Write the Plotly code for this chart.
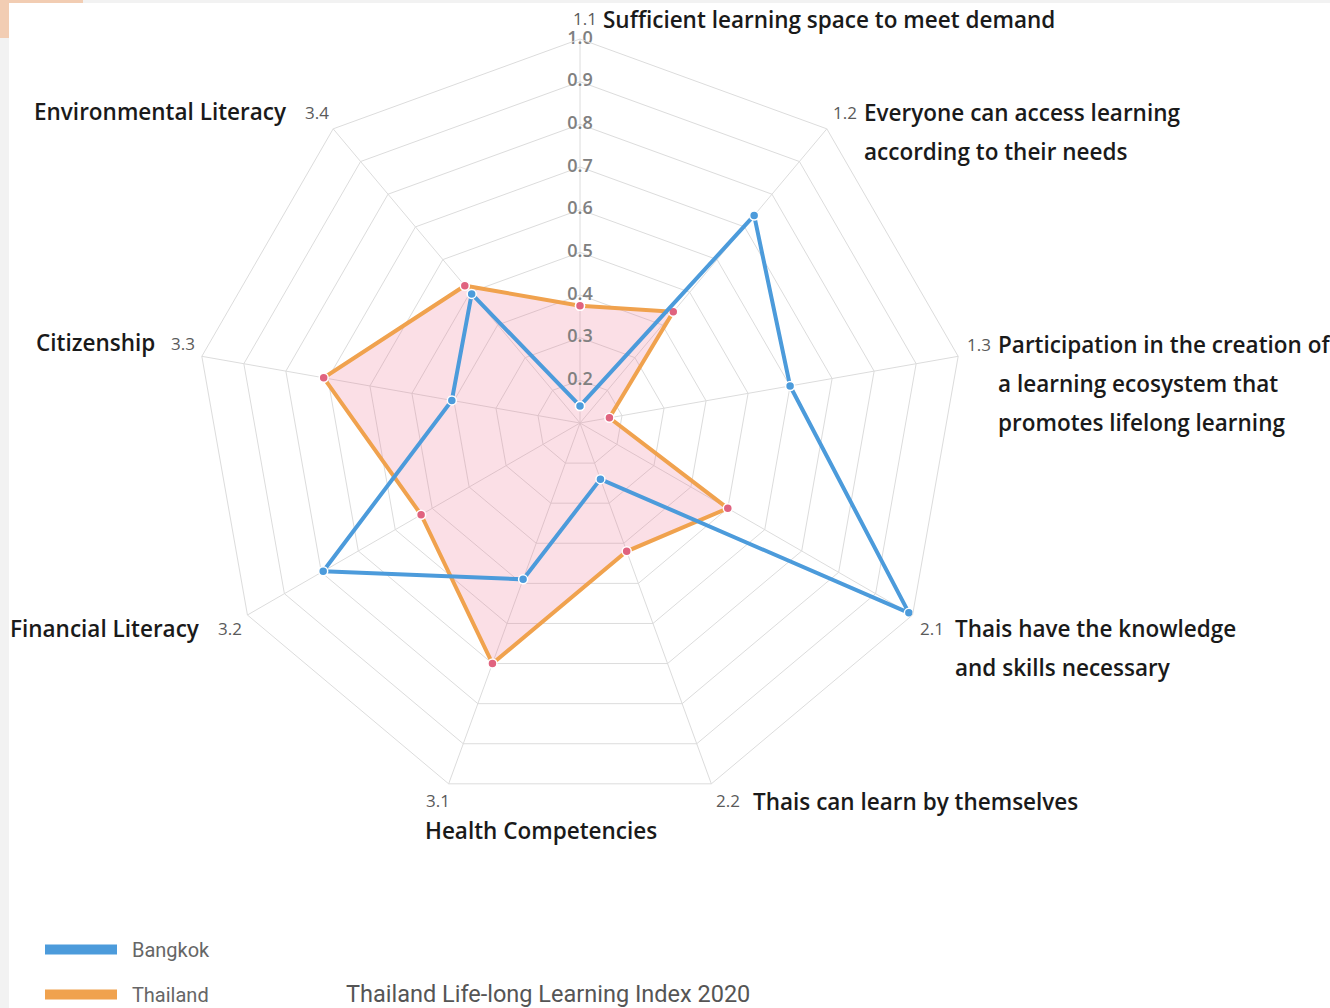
import plotly.graph_objects as go

W, H = 1330, 1008

categories = ["1.1", "1.2", "1.3", "2.1", "2.2", "3.1", "3.2", "3.3", "3.4"]
bangkok = [0.14, 0.735, 0.60, 0.99, 0.24, 0.49, 0.795, 0.405, 0.495]
thailand = [0.375, 0.44, 0.17, 0.50, 0.42, 0.70, 0.53, 0.71, 0.52]
radial_ticks = [0.2, 0.3, 0.4, 0.5, 0.6, 0.7, 0.8, 0.9, 1.0]
radial_ticktext = ["0.2", "0.3", "0.4", "0.5", "0.6", "0.7", "0.8", "0.9", "1.0"]

axis_labels = {
    "1.1": ["Sufficient learning space to meet demand"],
    "1.2": ["Everyone can access learning", "according to their needs"],
    "1.3": ["Participation in the creation of", "a learning ecosystem that", "promotes lifelong learning"],
    "2.1": ["Thais have the knowledge", "and skills necessary"],
    "2.2": ["Thais can learn by themselves"],
    "3.1": ["Health Competencies"],
    "3.2": ["Financial Literacy"],
    "3.3": ["Citizenship"],
    "3.4": ["Environmental Literacy"],
}

BLUE = "#4C9BDB"
ORANGE = "#F0A24E"
PINK = "#E0637F"
FILL = "rgba(236,110,140,0.22)"

cx, cy, R = 580, 423, 384

fig = go.Figure()

fig.add_trace(go.Scatterpolar(
    r=thailand + thailand[:1], theta=categories + categories[:1],
    mode="lines+markers", fill="toself", fillcolor=FILL,
    line=dict(color=ORANGE, width=4),
    marker=dict(color=PINK, size=9, line=dict(color="white", width=1.5)),
    name="Thailand", showlegend=False, hoverinfo="skip"))

fig.add_trace(go.Scatterpolar(
    r=bangkok + bangkok[:1], theta=categories + categories[:1],
    mode="lines+markers",
    line=dict(color=BLUE, width=4),
    marker=dict(color=BLUE, size=9, line=dict(color="white", width=1.5)),
    name="Bangkok", showlegend=False, hoverinfo="skip"))

fig.add_trace(go.Scatterpolar(
    r=radial_ticks, theta=[categories[0]] * len(radial_ticks),
    mode="text", text=radial_ticktext, textposition="middle center",
    textfont=dict(family="Open Sans", size=18, color="#808080", weight=600),
    showlegend=False, hoverinfo="skip"))

fig.add_trace(go.Scatterpolar(r=[None], theta=[None], mode="lines", legendgroup="a",
                              line=dict(color=BLUE, width=10), name="\u00a0\u00a0Bangkok", legendrank=1))
fig.add_trace(go.Scatterpolar(r=[None], theta=[None], mode="lines", legendgroup="b",
                              line=dict(color=ORANGE, width=10), name="\u00a0\u00a0Thailand", legendrank=2))

fig.update_layout(
    width=W, height=H,
    margin=dict(l=0, r=0, t=0, b=0, autoexpand=False),
    paper_bgcolor="white",
    font=dict(family="Roboto", color="#222"),
    polar=dict(
        domain=dict(x=[(cx - R) / W, (cx + R) / W], y=[1 - (cy + R) / H, 1 - (cy - R) / H]),
        bgcolor="white",
        gridshape="linear",
        angularaxis=dict(type="category", categoryarray=categories, direction="clockwise",
                         rotation=90, showticklabels=False, ticks="",
                         gridcolor="#dcdcdc", gridwidth=1, linecolor="#dcdcdc", linewidth=1),
        radialaxis=dict(range=[0.1, 1.0], tick0=0, dtick=0.1, showticklabels=False, ticks="",
                        showline=False, gridcolor="#dcdcdc", gridwidth=1),
    ),
    legend=dict(x=40 / W, y=1 - 930 / H, xanchor="left", yanchor="top",
                font=dict(family="Roboto", size=20, color="#666"),
                itemwidth=72, tracegroupgap=16),
    title=dict(text="Thailand Life-long Learning Index 2020", x=346 / W, xanchor="left",
               y=1 - 994 / H, yanchor="middle",
               font=dict(family="Roboto", size=23.5, color="#555")),
)

NUMFONT = dict(family="Open Sans", size=17, color="#5a5a5a")
TXTFONT = dict(family="Open Sans", size=22.5, color="#1a1a1a", weight=600)

label_pos = {
    "1.1": (571, 18, 601, 19),
    "1.2": (831, 112, 862, 112),
    "1.3": (965, 344, 996, 344),
    "2.1": (918, 628, 953, 628),
    "2.2": (714, 800, 751, 801),
    "3.1": (424, 800, 423, 830),
    "3.2": (216, 628, 202, 628),
    "3.3": (169, 343, 157, 342),
    "3.4": (303, 112, 289, 111),
}
right_aligned = {"3.2", "3.3", "3.4"}
for cat in categories:
    nx, ny, tx, ty = label_pos[cat]
    fig.add_annotation(text=cat, x=nx / W, y=1 - ny / H, xref="paper", yref="paper",
                       xanchor="left", yanchor="middle", showarrow=False, font=NUMFONT)
    for i, line in enumerate(axis_labels[cat]):
        fig.add_annotation(text=line, x=tx / W, y=1 - (ty + 39 * i) / H, xref="paper", yref="paper",
                           xanchor="right" if cat in right_aligned else "left", yanchor="middle",
                           showarrow=False, font=TXTFONT)

fig.add_shape(type="rect", xref="paper", yref="paper", x0=0, x1=9 / W, y0=0, y1=1 - 38 / H,
              fillcolor="#f2f2f2", line_width=0, layer="below")
fig.add_shape(type="rect", xref="paper", yref="paper", x0=0, x1=9 / W, y0=1 - 38 / H, y1=1,
              fillcolor="#f2cdb3", line_width=0, layer="below")
fig.add_shape(type="rect", xref="paper", yref="paper", x0=0, x1=83 / W, y0=1 - 3 / H, y1=1,
              fillcolor="#f2cdb3", line_width=0, layer="below")
fig.add_shape(type="rect", xref="paper", yref="paper", x0=83 / W, x1=1, y0=1 - 3 / H, y1=1,
              fillcolor="#f2f2f2", line_width=0, layer="below")

fig.write_html("out.html", config={"displayModeBar": False},
               post_script="document.body.style.margin='0';document.body.style.overflow='hidden';")
